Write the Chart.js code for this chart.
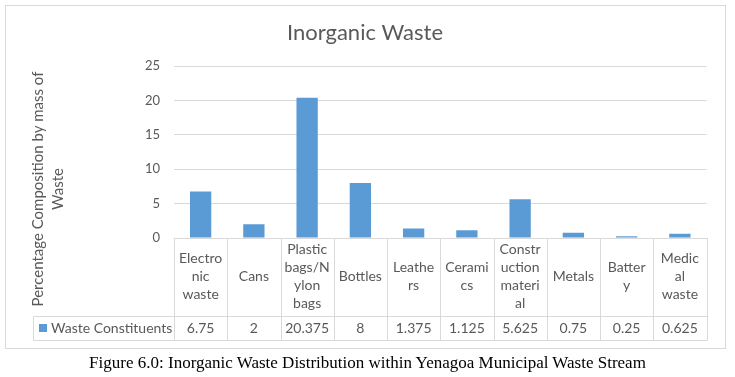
<!DOCTYPE html>
<html lang="en">

<head>
    <meta charset="UTF-8">
    <title>Inorganic Waste</title>
    <script src="https://cdn.jsdelivr.net/npm/chart.js@4.4.0/dist/chart.umd.min.js"></script>
    <style>
        body { margin: 0; background: #fff; width: 735px; height: 377px; overflow: hidden; position: relative; }
        #chartBox { position: absolute; left: 0; top: 0; width: 735px; height: 350px; }
        #frame { position: absolute; left: 5px; top: 5px; width: 719px; height: 342px; border: 1px solid #d9d9d9; pointer-events: none; }
        #caption { position: absolute; left: 0; top: 353px; width: 735px; text-align: center; font-family: "Liberation Serif", "Times New Roman", serif; font-size: 17px; line-height: 20px; color: #000; }
    </style>
</head>

<body>
    <!-- chart with its data table -->
    <div id="chartBox"><canvas id="myChart"></canvas></div>
    <div id="frame"></div>
    <div id="caption">Figure 6.0: Inorganic Waste Distribution within Yenagoa Municipal Waste Stream</div>
</body>

<script>
    // data
    const categories = [
        ["Electro", "nic", "waste"],
        ["Cans"],
        ["Plastic", "bags/N", "ylon", "bags"],
        ["Bottles"],
        ["Leathe", "rs"],
        ["Cerami", "cs"],
        ["Constr", "uction", "materi", "al"],
        ["Metals"],
        ["Batter", "y"],
        ["Medic", "al", "waste"]
    ];
    const values = [6.75, 2, 20.375, 8, 1.375, 1.125, 5.625, 0.75, 0.25, 0.625];
    const seriesName = "Waste Constituents";
    const yTicks = [0, 5, 10, 15, 20, 25];
    const yTitle = ["Percentage Composition by mass of", "Waste"];

    const gray = "#595959";
    const lineGray = "#d9d9d9";
    const barBlue = "#5b9bd5";

    Chart.defaults.font.family = "Lato, 'Open Sans', sans-serif";
    Chart.defaults.color = gray;

    // draws the data table below the axis plus the rotated y title
    const tablePlugin = {
        id: "dataTable",
        afterDraw(chart) {
            const ctx = chart.ctx;
            const x = chart.scales.x;
            const area = chart.chartArea;
            const colW = x.width / categories.length;
            const rowTop = area.bottom;
            const rowMid = rowTop + 78;
            const rowBot = rowMid + 24;
            const tableLeft = 33;
            const px = v => Math.round(v) + 0.5;

            ctx.save();
            ctx.strokeStyle = lineGray;
            ctx.lineWidth = 1;
            ctx.beginPath();
            // vertical column lines
            for (let i = 0; i <= categories.length; i++) {
                const xx = px(x.left + i * colW);
                ctx.moveTo(xx, rowTop);
                ctx.lineTo(xx, rowBot);
            }
            // value row box
            ctx.moveTo(px(tableLeft), px(rowMid));
            ctx.lineTo(px(x.right), px(rowMid));
            ctx.moveTo(px(tableLeft), px(rowBot));
            ctx.lineTo(px(x.right), px(rowBot));
            ctx.moveTo(px(tableLeft), px(rowMid));
            ctx.lineTo(px(tableLeft), px(rowBot));
            ctx.stroke();

            // values
            ctx.fillStyle = gray;
            ctx.font = "14px Lato, 'Open Sans', sans-serif";
            ctx.textAlign = "center";
            ctx.textBaseline = "middle";
            const valY = (rowMid + rowBot) / 2;
            values.forEach((v, i) => {
                ctx.fillText(String(v), x.getPixelForValue(i), valY);
            });

            // legend key
            ctx.fillStyle = barBlue;
            ctx.fillRect(39, Math.round(valY) - 4, 8, 8);
            ctx.fillStyle = gray;
            ctx.textAlign = "left";
            ctx.fillText(seriesName, 51, valY);

            // y axis title
            ctx.font = "15px Lato, 'Open Sans', sans-serif";
            ctx.textAlign = "center";
            ctx.translate(48, 189);
            ctx.rotate(-Math.PI / 2);
            ctx.fillText(yTitle[0], 0, -10);
            ctx.fillText(yTitle[1], 0, 10);
            ctx.restore();
        }
    };

    const ctx = document.getElementById("myChart").getContext("2d");
    const myChart = new Chart(ctx, {
        type: "bar",
        data: {
            labels: categories,
            datasets: [{
                label: seriesName,
                data: values,
                backgroundColor: barBlue,
                barPercentage: 0.4,
                categoryPercentage: 1
            }]
        },
        options: {
            responsive: true,
            maintainAspectRatio: false,
            animation: false,
            layout: { padding: { left: 0, right: 5, top: 0, bottom: 0 } },
            plugins: {
                legend: { display: false },
                tooltip: { enabled: false },
                title: {
                    display: true,
                    text: "Inorganic Waste",
                    color: gray,
                    font: { size: 22, weight: "normal" },
                    padding: { top: 20, bottom: 19.6 }
                }
            },
            scales: {
                x: {
                    grid: { display: false },
                    border: { display: true, color: lineGray },
                    ticks: {
                        color: gray,
                        font: { size: 14, lineHeight: 1.3 },
                        padding: 3,
                        crossAlign: "center",
                        maxRotation: 0,
                        autoSkip: false
                    },
                    afterFit: s => { s.height = 112; }
                },
                y: {
                    min: 0,
                    max: 25,
                    afterBuildTicks: s => { s.ticks = yTicks.map(v => ({ value: v })); },
                    ticks: { padding: 14, font: { size: 13 }, color: gray },
                    grid: { color: lineGray, drawTicks: false },
                    border: { display: false },
                    afterFit: s => { s.width = 174; }
                },
                // empty right-hand spacer so the plot stops short of the frame
                spacer: {
                    position: "right",
                    ticks: { display: false },
                    grid: { display: false },
                    border: { display: false },
                    afterFit: s => { s.width = 23.5; }
                }
            }
        },
        plugins: [tablePlugin]
    });
</script>

</html>
